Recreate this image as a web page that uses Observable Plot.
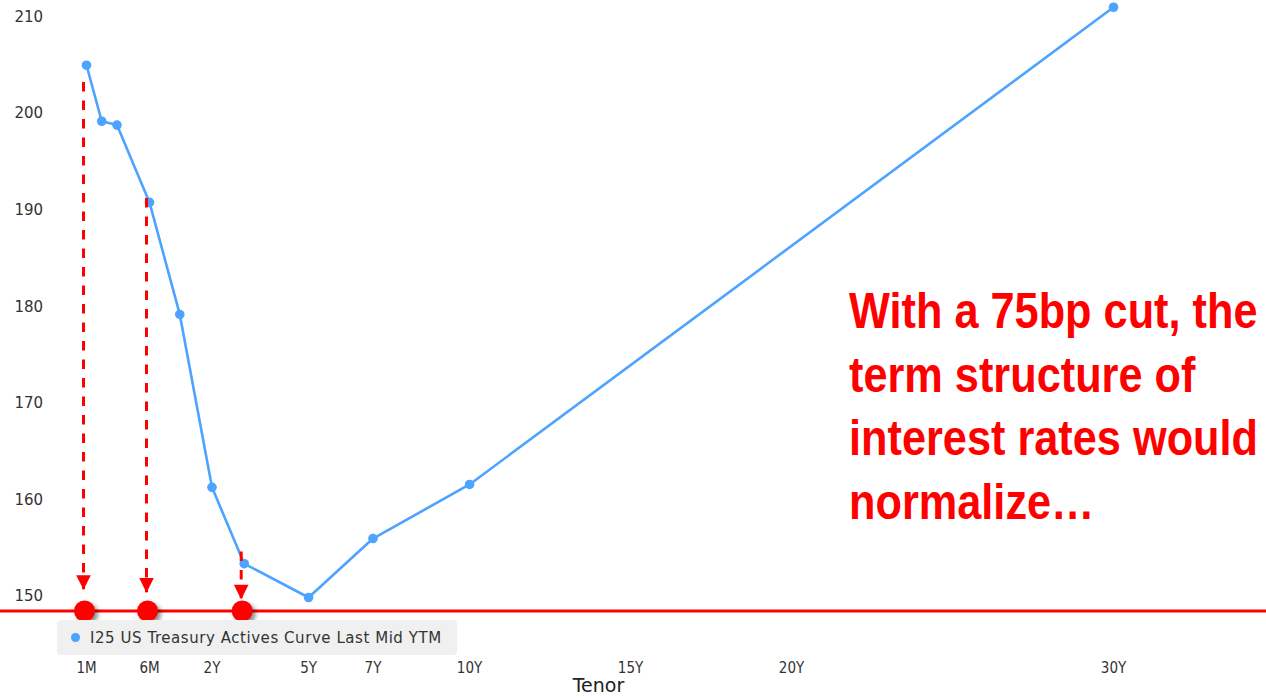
<!DOCTYPE html>
<html>
<head>
<meta charset="utf-8">
<script src="https://cdn.jsdelivr.net/npm/d3@7"></script>
<script src="https://cdn.jsdelivr.net/npm/@observablehq/plot@0.6"></script>
<style>
  html, body { margin: 0; padding: 0; background: #fff; }
  #wrap { position: relative; width: 1266px; height: 698px; overflow: hidden; }
  #wrap svg { position: absolute; left: 0; top: 0; }
  .cut-dots { filter: drop-shadow(3px 3px 2px rgba(0,0,0,0.45)); }
  .legend {
    position: absolute; left: 57px; top: 620px; width: 400px; height: 35px;
    background: #f0f0f0; border-radius: 4px; box-sizing: border-box;
    display: flex; align-items: center; padding-left: 14px;
    font-family: "DejaVu Sans", Verdana, sans-serif; font-size: 15px; letter-spacing: 0.55px; color: #333;
  }
  .legend .sw { width: 9px; height: 9px; border-radius: 50%; background: #4da3ff; margin-right: 10px; }
</style>
</head>
<body>
<div id="wrap"></div>
<script>
// Treasury actives curve, last mid YTM (bp) by tenor
const tenorLabels = ["1M", "2M", "3M", "6M", "1Y", "2Y", "3Y", "5Y", "7Y", "10Y", "30Y"];
const tenorYears  = [1/12, 2/12, 3/12, 0.5, 1, 2, 3, 5, 7, 10, 30];
const yields      = [205.0, 199.2, 198.8, 190.8, 179.2, 161.3, 153.4, 149.9, 156.0, 161.6, 211.0];

// Axis ticks
const xTickYears  = [1/12, 0.5, 2, 5, 7, 10, 15, 20, 30];
const xTickLabels = ["1M", "6M", "2Y", "5Y", "7Y", "10Y", "15Y", "20Y", "30Y"];
const yTicks      = [150, 160, 170, 180, 190, 200, 210];

// 75bp cut scenario: arrows from current yields down to the post-cut level
const cutTenors   = [1/12, 0.5, 3];
const arrowFrom   = [203.2, 191.2, 154.6];
const arrowTo     = [150.7, 150.4, 149.7];
const cutLevel    = 148.5;
const noteText    = "With a 75bp cut, the\nterm structure of\ninterest rates would\nnormalize…";

const BLUE = "#4da3ff";
const RED = "#ff0000";
const CUT_R = 10.5;

const curve = tenorYears.map((t, i) => ({tenor: t, label: tenorLabels[i], ytm: yields[i]}));
const cuts = cutTenors.map((t, i) => ({tenor: t, from: arrowFrom[i], to: arrowTo[i]}));
const tickName = new Map(xTickYears.map((t, i) => [t, xTickLabels[i]]));

// Down-pointing filled arrowhead whose tip sits on the point
const arrowHead = {
  draw(ctx, size) {
    const r = Math.sqrt(size / Math.PI);
    ctx.moveTo(0, 0);
    ctx.lineTo(-r, -2 * r);
    ctx.lineTo(r, -2 * r);
    ctx.closePath();
  }
};

const chart = Plot.plot({
  width: 1266,
  height: 698,
  marginLeft: 0,
  marginRight: 0,
  marginTop: 0,
  marginBottom: 73,
  style: {fontFamily: "'DejaVu Sans', Verdana, sans-serif", color: "#333", background: "transparent"},
  x: {type: "linear", domain: [1/12, 0.25, 0.5, 1, 30], range: [86, 116.5, 149, 179.3, 1113]},
  y: {domain: [147, 211.7]},
  marks: [
    Plot.axisY({ticks: yTicks, tickSize: 0, tickPadding: 0, textAnchor: "start", dx: 14, fontSize: 15, label: null}),
    Plot.axisX({ticks: xTickYears, tickFormat: d => tickName.get(d), tickSize: 0, tickPadding: 37, fontSize: 15,
                fontFamily: "'DejaVu Sans Condensed', 'DejaVu Sans', sans-serif", label: null}),
    Plot.text(["Tenor"], {frameAnchor: "bottom", dx: -35, dy: 66, fontSize: 19, fill: "#222",
                          fontFamily: "'DejaVu Sans', Verdana, sans-serif"}),
    // yield curve
    Plot.line(curve, {x: "tenor", y: "ytm", stroke: BLUE, strokeWidth: 2.6}),
    Plot.dot(curve, {x: "tenor", y: "ytm", r: 4.8, fill: BLUE}),
    // post-cut level
    Plot.ruleY([cutLevel], {stroke: RED, strokeWidth: 3}),
    Plot.ruleX(cuts, {x: "tenor", y1: "from", y2: "to", dx: -3, stroke: RED, strokeWidth: 3,
                      strokeDasharray: "9.5,9", strokeLinecap: "butt"}),
    Plot.dot(cuts, {x: "tenor", y: "to", dx: -3, r: 7.3, symbol: arrowHead, fill: RED, stroke: "none"}),
    Plot.dot(cuts, {x: "tenor", y: cutLevel, dx: -2, r: CUT_R, fill: RED, stroke: "none"}),
    Plot.text([noteText], {frameAnchor: "top-left", lineAnchor: "top", textAnchor: "start",
                           lineHeight: 1.27, fontSize: 50, fontWeight: "bold", fill: RED,
                           fontFamily: "'Liberation Sans Narrow', 'Liberation Sans', Arial, sans-serif"})
  ]
});

const svg = d3.select(chart);

// Soft shadow under the post-cut markers
svg.selectAll("circle").filter(function() { return +this.getAttribute("r") === CUT_R; })
  .each(function() { this.parentNode.classList.add("cut-dots"); });

// The note is set in a narrow bold face: place it and condense it horizontally
svg.selectAll('g[aria-label="text"]')
  .filter(function() { return this.textContent.startsWith("With a 75bp"); })
  .attr("transform", "translate(849,283) scale(0.866,1)");

const wrap = document.getElementById("wrap");
wrap.appendChild(chart);

const legend = document.createElement("div");
legend.className = "legend";
legend.innerHTML = '<span class="sw"></span><span>I25 US Treasury Actives Curve Last Mid YTM</span>';
wrap.appendChild(legend);
</script>
</body>
</html>
